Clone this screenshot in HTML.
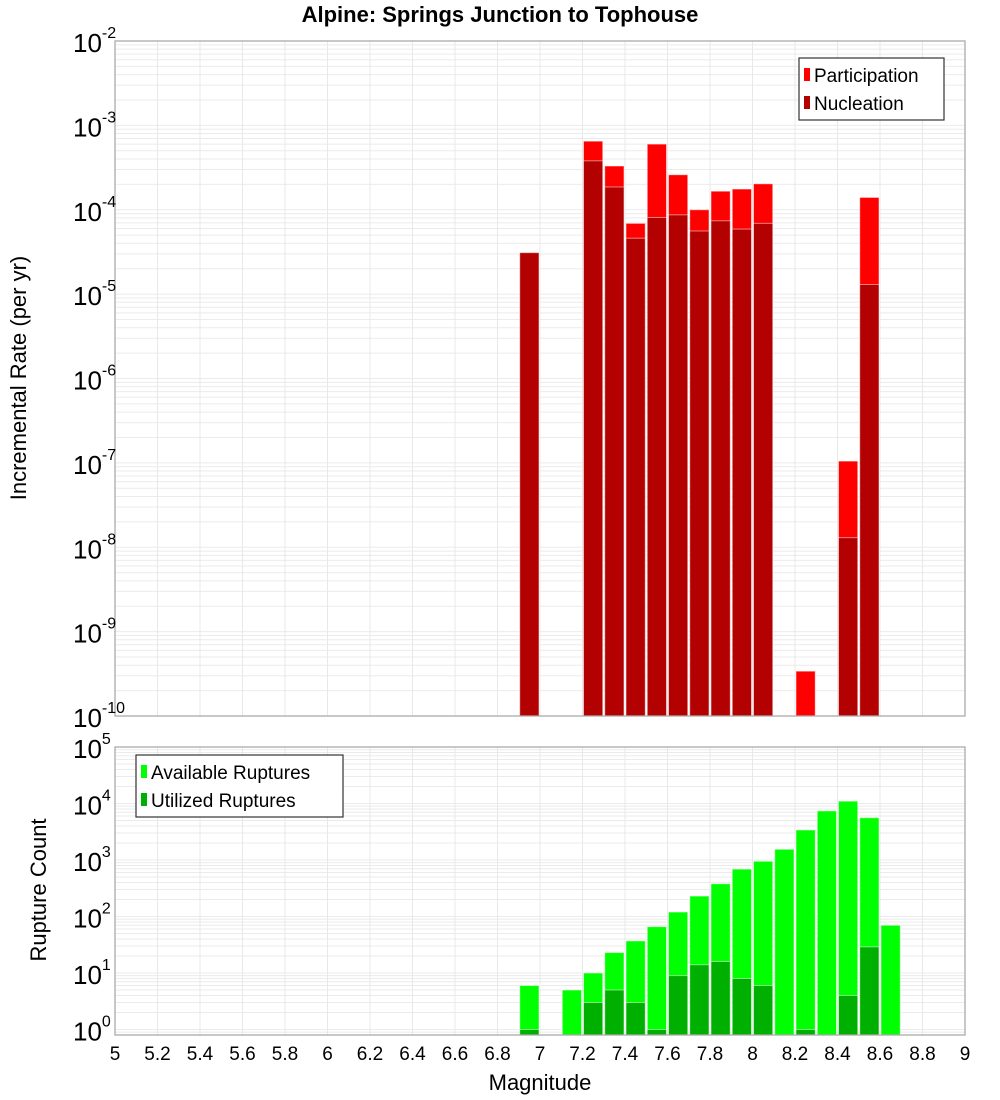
<!DOCTYPE html>
<html><head><meta charset="utf-8"><style>
body{margin:0;background:#fff;}
svg{display:block;font-family:"Liberation Sans","DejaVu Sans",sans-serif;}
</style></head><body>
<svg id="c" width="1000" height="1100" xmlns="http://www.w3.org/2000/svg">
<text x="500" y="22" text-anchor="middle" font-size="22" font-weight="bold">Alpine: Springs Junction to Tophouse</text>
<g id="top"></g>
<g id="bot"></g>
<text x="540" y="1090" text-anchor="middle" font-size="22">Magnitude</text>
<text transform="translate(26,378) rotate(-90)" text-anchor="middle" font-size="22">Incremental Rate (per yr)</text>
<text transform="translate(46,890) rotate(-90)" text-anchor="middle" font-size="22">Rupture Count</text>
</svg>
<script>
const magnitudes=[6.95,7.15,7.25,7.35,7.45,7.55,7.65,7.75,7.85,7.95,8.05,8.15,8.25,8.35,8.45,8.55,8.65];
const participation=[3.1e-5,0,6.5e-4,3.3e-4,6.9e-5,6.0e-4,2.6e-4,1.0e-4,1.66e-4,1.76e-4,2.03e-4,0,3.4e-10,0,1.05e-7,1.4e-4,0];
const nucleation=[3.1e-5,0,3.8e-4,1.86e-4,4.6e-5,8.1e-5,8.7e-5,5.6e-5,7.4e-5,5.9e-5,6.9e-5,0,0,0,1.3e-8,1.3e-5,0];
const available=[6,5,10,23,37,66,120,230,380,690,950,1550,3400,7400,11000,5600,70];
const utilized=[1,0,3,5,3,1,9,14,16,8,6,0,1,0,4,29,0];
const xTicks=[5,5.2,5.4,5.6,5.8,6,6.2,6.4,6.6,6.8,7,7.2,7.4,7.6,7.8,8,8.2,8.4,8.6,8.8,9];
const topExps=[-2,-3,-4,-5,-6,-7,-8,-9,-10];
const botExps=[5,4,3,2,1,0];

const NS="http://www.w3.org/2000/svg";
const L=115,R=965;
const X=m=>L+(m-5)*(R-L)/4;
function mk(parent,tag,attrs){const e=document.createElementNS(NS,tag);for(const k in attrs)e.setAttribute(k,attrs[k]);parent.appendChild(e);return e;}

function panel(g,top,bottom,yOf,minE,maxE,bottomVal){
  mk(g,'rect',{x:L,y:top,width:R-L,height:bottom-top,fill:'#fff'});
  for(let e=minE;e<maxE+1;e++){for(let k=1;k<10;k++){const y=yOf(k*Math.pow(10,e));if(y<top-0.5||y>bottom+0.5)continue;
    const l=mk(g,'line',{x1:L,x2:R,y1:y,y2:y,stroke:'#ebebeb','stroke-width':1});
    
    }}
  xTicks.forEach(t=>{const l=mk(g,'line',{x1:X(t),x2:X(t),y1:top,y2:bottom,stroke:'#e8e8e8','stroke-width':1});
    
    });
}
function bars(g,vals,yOf,bottom,color,name){
  vals.forEach((v,i)=>{if(!(v>0))return;const y=Math.max(yOf(v),0);const x=X(magnitudes[i]-0.05);
    const r=mk(g,'rect',{x:x+1,y:y,width:(X(0.1+5)-L)-2,height:bottom-y,fill:color,stroke:'#fff','stroke-opacity':0.5,'stroke-width':1});
    
    });
}
function frame(g,top,bottom){mk(g,'rect',{x:L,y:top,width:R-L,height:bottom-top,fill:'none',stroke:'#aaa','stroke-width':1.3});}
function yLabels(g,exps,yOf){exps.forEach(e=>{const y=yOf(Math.pow(10,e));const t=mk(g,'text',{x:73,y:y+11,'font-size':26});
  t.textContent='10';const s=mk(t,'tspan',{dy:-14,'font-size':16});s.textContent=String(e);
  
  });}
function legend(g,x,y,w,items){mk(g,'rect',{x:x,y:y,width:w,height:62,fill:'#fff',stroke:'#333','stroke-width':1.2});
  items.forEach((it,i)=>{const yy=y+18+i*28;
    const sw=mk(g,'rect',{x:x+5,y:yy-8,width:6,height:13,fill:it[1]});
    
    
    const t=mk(g,'text',{x:x+15,y:yy+6,'font-size':19});t.textContent=it[0];
    
    });}

// top
const tT=41,tB=716;const yT=v=>tT+(-2-Math.log10(v))*(tB-tT)/8;
const gt=document.getElementById('top');
panel(gt,tT,tB,yT,-10,-2);
bars(gt,participation,yT,tB,'#ff0000','participation-bar');
bars(gt,nucleation,yT,tB,'#b30000','nucleation-bar');
frame(gt,tT,tB);yLabels(gt,topExps,yT);
legend(gt,799,58,145,[['Participation','#ff0000'],['Nucleation','#b30000']]);

// bottom
const bT=747,bB=1035,dec=56.5;const yB=v=>bT+(5-Math.log10(v))*dec;
const gb=document.getElementById('bot');
panel(gb,bT,bB,yB,-1,5);
bars(gb,available,yB,bB,'#00ff00','available-bar');
bars(gb,utilized,yB,bB,'#00b000','utilized-bar');
frame(gb,bT,bB);yLabels(gb,botExps,yB);
legend(gb,136,755,207,[['Available Ruptures','#00ff00'],['Utilized Ruptures','#00b000']]);
xTicks.forEach(t=>{const e=mk(gb,'text',{x:X(t),y:1060,'text-anchor':'middle','font-size':19});e.textContent=String(t);
  
  });
</script>
</body></html>
